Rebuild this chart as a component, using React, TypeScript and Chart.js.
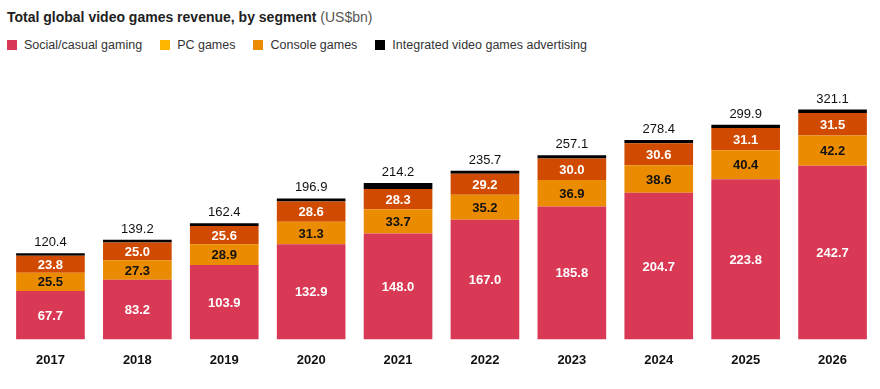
import React, { useEffect, useRef } from "react";
import { Chart, registerables } from "chart.js";

Chart.register(...registerables);

const years = ["2017", "2018", "2019", "2020", "2021", "2022", "2023", "2024", "2025", "2026"];
const social = [67.7, 83.2, 103.9, 132.9, 148.0, 167.0, 185.8, 204.7, 223.8, 242.7];
const pcGames = [25.5, 27.3, 28.9, 31.3, 33.7, 35.2, 36.9, 38.6, 40.4, 42.2];
const consoleGames = [23.8, 25.0, 25.6, 28.6, 28.3, 29.2, 30.0, 30.6, 31.1, 31.5];
const advertising = [3.4, 3.7, 4.0, 4.1, 8.6, 4.3, 4.4, 4.5, 4.6, 4.7];
const totals = [120.4, 139.2, 162.4, 196.9, 214.2, 235.7, 257.1, 278.4, 299.9, 321.1];

const FONT = "'Liberation Sans', Arial, Helvetica, sans-serif";

const legendItems = [
  { label: "Social/casual gaming", color: "#d93954" },
  { label: "PC games", color: "#ffb600" },
  { label: "Console games", color: "#eb8c00" },
  { label: "Integrated video games advertising", color: "#000000" },
];

const labelPlugin = {
  id: "segmentLabels",
  afterDatasetsDraw(chart: any) {
    const ctx = chart.ctx;
    ctx.save();
    ctx.textAlign = "center";
    ctx.textBaseline = "middle";
    const colors = ["#ffffff", "#111111", "#ffffff"];
    for (let d = 0; d < 3; d++) {
      const meta = chart.getDatasetMeta(d);
      const ds = chart.data.datasets[d];
      meta.data.forEach((bar: any, i: number) => {
        const { x, y, base } = bar.getProps(["x", "y", "base"], true);
        ctx.font = `bold 13px ${FONT}`;
        ctx.fillStyle = colors[d];
        ctx.fillText(ds.data[i].toFixed(1), x, (y + base) / 2 + 1);
      });
    }
    const topMeta = chart.getDatasetMeta(3);
    topMeta.data.forEach((bar: any, i: number) => {
      const { x, y } = bar.getProps(["x", "y"], true);
      ctx.font = `13px ${FONT}`;
      ctx.fillStyle = "#111111";
      ctx.textBaseline = "alphabetic";
      ctx.fillText(totals[i].toFixed(1), x, y - 7);
    });
    ctx.restore();
  },
};

export default function App() {
  const canvasRef = useRef<HTMLCanvasElement | null>(null);

  useEffect(() => {
    document.body.style.margin = "0";
    const canvas = canvasRef.current;
    if (!canvas) return;
    const chart = new Chart(canvas, {
      type: "bar",
      data: {
        labels: years,
        datasets: [
          { label: "Social/casual gaming", data: social, backgroundColor: "#d93954" },
          { label: "PC games", data: pcGames, backgroundColor: "#eb8c00" },
          { label: "Console games", data: consoleGames, backgroundColor: "#d04a02" },
          { label: "Integrated video games advertising", data: advertising, backgroundColor: "#000000" },
        ],
      },
      options: {
        animation: false,
        responsive: false,
        maintainAspectRatio: false,
        datasets: { bar: { categoryPercentage: 1, barPercentage: 0.79, borderWidth: 0 } },
        layout: { padding: { top: 96, left: 7, right: 4, bottom: 8 } },
        plugins: { legend: { display: false }, tooltip: { enabled: false }, title: { display: false } },
        scales: {
          x: {
            stacked: true,
            grid: { display: false, drawTicks: false },
            border: { display: false },
            ticks: { color: "#111111", padding: 13, font: { family: FONT, size: 13, weight: "bold" } },
          },
          y: {
            stacked: true,
            display: false,
            min: 0,
            max: 340,
          },
        },
      },
      plugins: [labelPlugin],
    });
    return () => chart.destroy();
  }, []);

  return (
    <div style={{ position: "relative", width: 880, height: 389, background: "#fff", fontFamily: FONT }}>
      <div style={{ position: "absolute", left: 7, top: 9, fontSize: 14, color: "#222", whiteSpace: "nowrap" }}>
        <span style={{ fontWeight: "bold" }}>Total global video games revenue, by segment</span>
        <span style={{ color: "#555" }}> (US$bn)</span>
      </div>
      <div style={{ position: "absolute", left: 7, top: 38, display: "flex", fontSize: 12.5, color: "#333", whiteSpace: "nowrap" }}>
        {legendItems.map((it) => (
          <div key={it.label} style={{ display: "flex", alignItems: "center", marginRight: 18 }}>
            <span style={{ display: "inline-block", width: 10, height: 10, background: it.color, marginRight: 7 }} />
            <span>{it.label}</span>
          </div>
        ))}
      </div>
      <canvas ref={canvasRef} width={880} height={389} style={{ position: "absolute", left: 0, top: 0 }} />
    </div>
  );
}
